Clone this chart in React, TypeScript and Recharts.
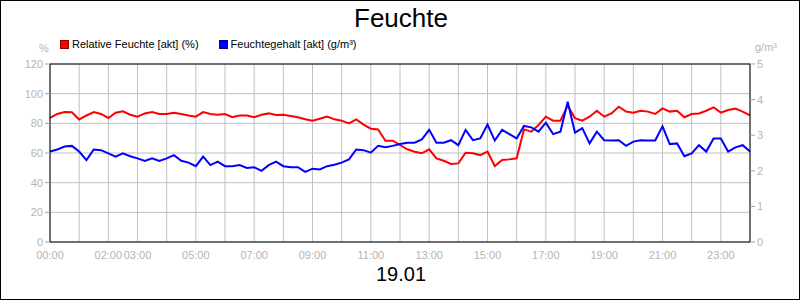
import { LineChart, Line, XAxis, YAxis, CartesianGrid, ReferenceLine } from "recharts";

// 15-minuten-Raster, 00:00 bis 24:00
const relFeuchte = [
    83.7, 86.3, 87.6, 87.4, 82.6, 85.3, 87.6, 86.3, 83.6, 87.2, 88.1, 85.8,
    84.5, 86.7, 87.6, 86.3, 86.3, 87.2, 86.3, 85.3, 84.5, 87.6, 86.3, 85.8,
    86.3, 84.1, 85.3, 85.3, 84.1, 85.8, 86.7, 85.6, 85.8, 84.9, 84.1, 82.7,
    81.8, 83.1, 84.5, 82.7, 81.8, 80.0, 82.7, 79.1, 76.4, 75.9, 68.3, 68.3,
    65.4, 62.5, 60.9, 59.8, 62.5, 56.4, 54.8, 52.6, 53.0, 60.2, 59.8, 58.6,
    60.9, 51.2, 55.3, 55.7, 56.4, 75.9, 74.4, 78.9, 84.5, 81.8, 81.8, 92.0,
    83.4, 81.8, 84.5, 88.5, 84.5, 86.7, 91.2, 87.9, 87.2, 88.5, 87.9, 86.3,
    90.1, 87.9, 88.5, 84.1, 86.3, 86.7, 88.5, 90.8, 87.2, 89.0, 89.9, 87.9,
    85.4,
];

const feuchtegehalt = [
    2.54, 2.60, 2.68, 2.70, 2.54, 2.30, 2.60, 2.58, 2.49, 2.40, 2.49, 2.41,
    2.35, 2.28, 2.35, 2.28, 2.35, 2.44, 2.28, 2.23, 2.13, 2.40, 2.16, 2.26,
    2.13, 2.13, 2.16, 2.08, 2.10, 2.00, 2.16, 2.26, 2.13, 2.10, 2.10, 1.97,
    2.06, 2.04, 2.13, 2.17, 2.23, 2.32, 2.60, 2.58, 2.51, 2.70, 2.66, 2.70,
    2.75, 2.79, 2.79, 2.88, 3.15, 2.79, 2.79, 2.86, 2.72, 3.15, 2.86, 2.91,
    3.30, 2.85, 3.15, 3.03, 2.91, 3.26, 3.22, 3.10, 3.35, 3.03, 3.10, 3.94,
    3.07, 3.20, 2.77, 3.10, 2.86, 2.85, 2.86, 2.70, 2.82, 2.86, 2.85, 2.85,
    3.25, 2.75, 2.77, 2.41, 2.49, 2.72, 2.54, 2.91, 2.91, 2.54, 2.66, 2.72,
    2.54,
];

const hourTicks = [0, 1, 2, 3, 4, 5, 6, 7, 8, 9, 10, 11, 12, 13, 14, 15, 16, 17, 18, 19, 20, 21, 22, 23, 24];
const labeledHours = [0, 2, 3, 5, 7, 9, 11, 13, 15, 17, 19, 21, 23];
const leftTicks = [0, 20, 40, 60, 80, 100, 120];
const rightTicks = [0, 1, 2, 3, 4, 5];

const data = relFeuchte.map((rh, i) => ({
    t: i * 0.25,
    rh,
    ah: feuchtegehalt[i],
}));

const font = "'Liberation Sans', Arial, sans-serif";
const tickGray = "#b4b4b4";

const fmtHour = (h: number) =>
    labeledHours.includes(h) ? `${String(h).padStart(2, "0")}:00` : "";

export default function App() {
    return (
        <div
            style={{
                position: "relative",
                width: 800,
                height: 300,
                boxSizing: "border-box",
                border: "1px solid #000",
                background: "#fff",
                fontFamily: font,
                overflow: "hidden",
            }}
        >
            <style>{`body{margin:0}`}</style>
            <div style={{ position: "absolute", top: 2, left: 0, width: 800, textAlign: "center", fontSize: 26 }}>
                Feuchte
            </div>
            <div style={{ position: "absolute", top: 41, left: 38, fontSize: 11, color: tickGray }}>%</div>
            <div style={{ position: "absolute", top: 40, left: 754, fontSize: 11, color: tickGray }}>g/m³</div>
            <div style={{ position: "absolute", top: 37, left: 59, fontSize: 11, display: "flex", alignItems: "center" }}>
                <span style={{ width: 7, height: 7, background: "#f00", border: "1px solid #800", marginRight: 3 }} />
                <span>Relative Feuchte [akt] (%)</span>
                <span style={{ width: 7, height: 7, background: "#00f", border: "1px solid #008", marginLeft: 20, marginRight: 3 }} />
                <span>Feuchtegehalt [akt] (g/m³)</span>
            </div>
            <div style={{ position: "absolute", top: 262, left: 0, width: 800, textAlign: "center", fontSize: 20 }}>
                19.01
            </div>
            <div style={{ position: "absolute", top: -1, left: -1 }}>
                <LineChart width={800} height={300} data={data} margin={{ top: 64, right: 0, bottom: 38, left: 0 }}>
                    <CartesianGrid yAxisId="left" stroke="#c0c0c0" strokeWidth={1} />
                    <XAxis
                        dataKey="t"
                        type="number"
                        domain={[0, 24]}
                        ticks={hourTicks}
                        tickFormatter={fmtHour}
                        interval={0}
                        height={20}
                        axisLine={{ stroke: "#000" }}
                        tickLine={false}
                        tick={{ fill: tickGray, fontSize: 11, fontFamily: font }}
                        tickMargin={3}
                    />
                    <YAxis
                        yAxisId="left"
                        orientation="left"
                        width={50}
                        domain={[0, 120]}
                        ticks={leftTicks}
                        axisLine={{ stroke: "#000" }}
                        tickLine={{ stroke: "#a0a0a0" }}
                        tickSize={5}
                        tick={{ fill: tickGray, fontSize: 11, fontFamily: font }}
                    />
                    <YAxis
                        yAxisId="right"
                        orientation="right"
                        width={50}
                        domain={[0, 5]}
                        ticks={rightTicks}
                        axisLine={{ stroke: "#000" }}
                        tickLine={{ stroke: "#a0a0a0" }}
                        tickSize={5}
                        tick={{ fill: tickGray, fontSize: 11, fontFamily: font }}
                    />
                    <ReferenceLine yAxisId="left" y={120} stroke="#000" />
                    <Line
                        yAxisId="left"
                        type="linear"
                        dataKey="rh"
                        stroke="#ff0000"
                        strokeWidth={2}
                        dot={false}
                        isAnimationActive={false}
                    />
                    <Line
                        yAxisId="right"
                        type="linear"
                        dataKey="ah"
                        stroke="#0000ff"
                        strokeWidth={2}
                        dot={false}
                        isAnimationActive={false}
                    />
                </LineChart>
            </div>
        </div>
    );
}
